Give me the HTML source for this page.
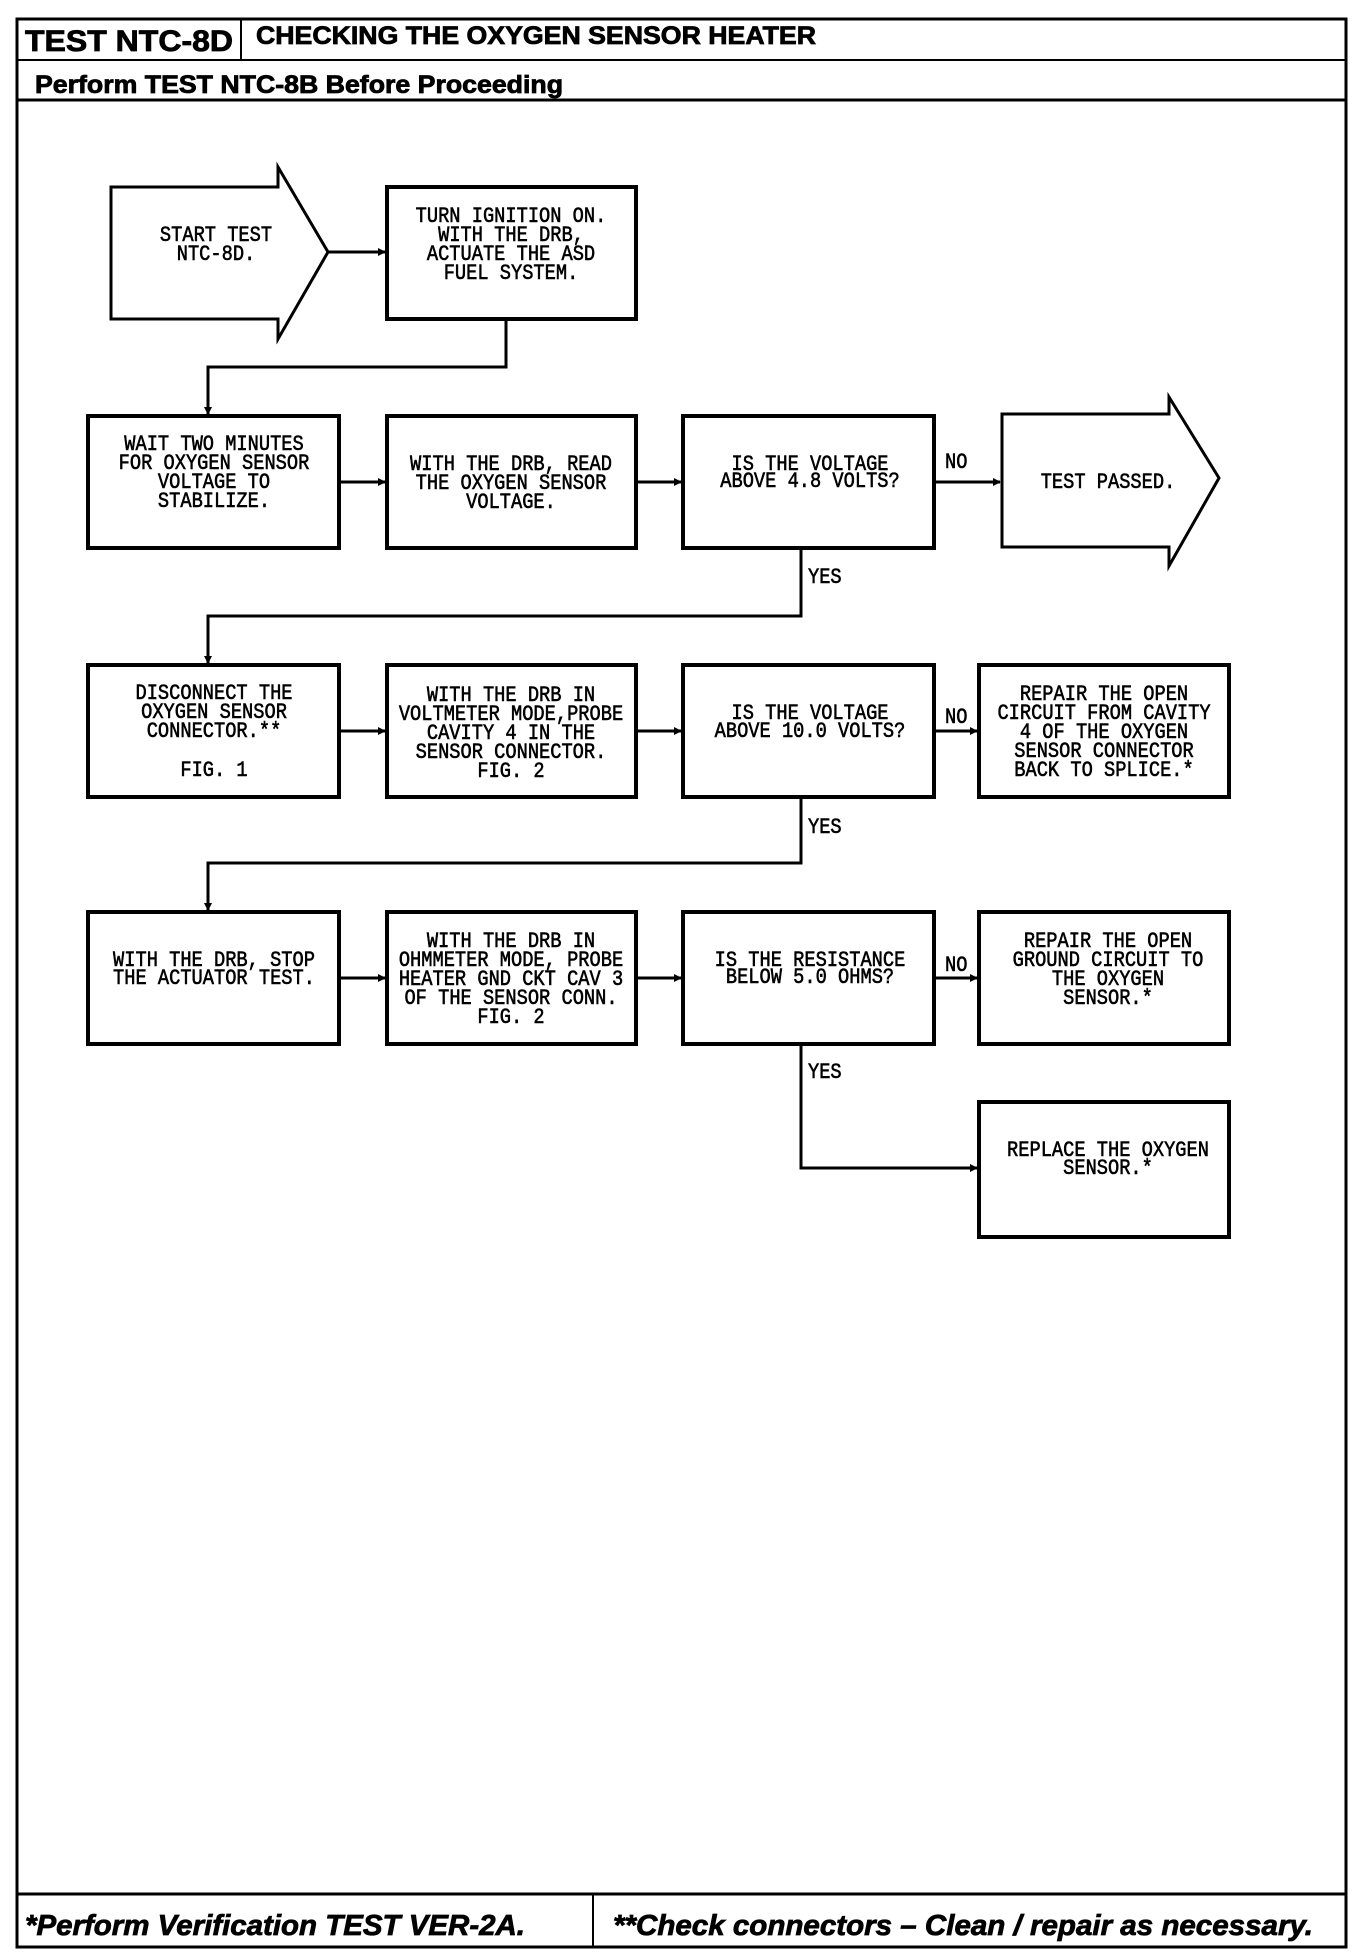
<!DOCTYPE html>
<html><head><meta charset="utf-8"><style>
html,body{margin:0;padding:0;background:#fff;}
svg{display:block;}
.m{font-family:"Liberation Mono",monospace;font-size:22px;fill:#000;stroke:#000;stroke-width:0.6;}
.h{font-family:"Liberation Sans",sans-serif;font-weight:bold;fill:#000;stroke:#000;stroke-width:0.8;}
</style></head><body>
<svg width="1360" height="1954" viewBox="0 0 1360 1954" xmlns="http://www.w3.org/2000/svg">
<defs>
<marker id="a" markerWidth="8" markerHeight="8" refX="7" refY="4" orient="auto" markerUnits="userSpaceOnUse"><path d="M0,0 L8,4 L0,8 z" fill="#000"/></marker>
</defs>
<g fill="none" stroke="#000">
<rect x="17" y="19" width="1329" height="1928" stroke-width="3"/>
<line x1="17" y1="60" x2="1346" y2="60" stroke-width="2"/>
<line x1="241" y1="19" x2="241" y2="60" stroke-width="2"/>
<line x1="17" y1="100" x2="1346" y2="100" stroke-width="3"/>
<line x1="17" y1="1894" x2="1346" y2="1894" stroke-width="3"/>
<line x1="593" y1="1894" x2="593" y2="1947" stroke-width="2"/>

<g stroke-width="4">
<path d="M111,187 L278,187 L278,167 L328,252 L278,339 L278,319 L111,319 Z" stroke-width="3"/>
<rect x="387" y="187" width="249" height="132"/>
<rect x="88" y="416" width="251" height="132"/>
<rect x="387" y="416" width="249" height="132"/>
<rect x="683" y="416" width="251" height="132"/>
<path d="M1002,414 L1169,414 L1169,397 L1219,478 L1169,566 L1169,547 L1002,547 Z" stroke-width="3"/>
<rect x="88" y="665" width="251" height="132"/>
<rect x="387" y="665" width="249" height="132"/>
<rect x="683" y="665" width="251" height="132"/>
<rect x="979" y="665" width="250" height="132"/>
<rect x="88" y="912" width="251" height="132"/>
<rect x="387" y="912" width="249" height="132"/>
<rect x="683" y="912" width="251" height="132"/>
<rect x="979" y="912" width="250" height="132"/>
<rect x="979" y="1102" width="250" height="135"/>
</g>

<g stroke-width="3">
<line x1="328" y1="252" x2="385" y2="252" marker-end="url(#a)"/>
<polyline points="506,319 506,367 208,367 208,414" marker-end="url(#a)"/>
<line x1="339" y1="482" x2="385" y2="482" marker-end="url(#a)"/>
<line x1="636" y1="482" x2="681" y2="482" marker-end="url(#a)"/>
<line x1="934" y1="482" x2="1000" y2="482" marker-end="url(#a)"/>
<polyline points="801,548 801,616 208,616 208,663" marker-end="url(#a)"/>
<line x1="339" y1="731" x2="385" y2="731" marker-end="url(#a)"/>
<line x1="636" y1="731" x2="681" y2="731" marker-end="url(#a)"/>
<line x1="934" y1="731" x2="977" y2="731" marker-end="url(#a)"/>
<polyline points="801,797 801,863 208,863 208,910" marker-end="url(#a)"/>
<line x1="339" y1="978" x2="385" y2="978" marker-end="url(#a)"/>
<line x1="636" y1="978" x2="681" y2="978" marker-end="url(#a)"/>
<line x1="934" y1="978" x2="977" y2="978" marker-end="url(#a)"/>
<polyline points="801,1044 801,1168 977,1168" marker-end="url(#a)"/>
</g>
</g>

<text class="h" x="25" y="51" font-size="30" textLength="208" lengthAdjust="spacingAndGlyphs">TEST NTC-8D</text>
<text class="h" x="256" y="44" font-size="25" textLength="560" lengthAdjust="spacingAndGlyphs">CHECKING THE OXYGEN SENSOR HEATER</text>
<text class="h" x="35" y="93" font-size="25" textLength="528" lengthAdjust="spacingAndGlyphs">Perform TEST NTC-8B Before Proceeding</text>
<text class="h" x="25" y="1935" font-size="29" font-style="italic" textLength="500" lengthAdjust="spacingAndGlyphs">*Perform Verification TEST VER-2A.</text>
<text class="h" x="613" y="1935" font-size="29" font-style="italic" textLength="700" lengthAdjust="spacingAndGlyphs">**Check connectors – Clean / repair as necessary.</text>

<g class="m" text-anchor="middle">
<g transform="translate(216,0) scale(0.85,1)"><text x="0" y="241">START TEST</text><text x="0" y="260">NTC-8D.</text></g>
<g transform="translate(511,0) scale(0.85,1)"><text x="0" y="222">TURN IGNITION ON.</text><text x="0" y="241">WITH THE DRB,</text><text x="0" y="260">ACTUATE THE ASD</text><text x="0" y="279">FUEL SYSTEM.</text></g>

<g transform="translate(214,0) scale(0.85,1)"><text x="0" y="450">WAIT TWO MINUTES</text><text x="0" y="469">FOR OXYGEN SENSOR</text><text x="0" y="488">VOLTAGE TO</text><text x="0" y="507">STABILIZE.</text></g>
<g transform="translate(511,0) scale(0.85,1)"><text x="0" y="470">WITH THE DRB, READ</text><text x="0" y="489">THE OXYGEN SENSOR</text><text x="0" y="508">VOLTAGE.</text></g>
<g transform="translate(810,0) scale(0.85,1)"><text x="0" y="470">IS THE VOLTAGE</text><text x="0" y="487">ABOVE 4.8 VOLTS?</text></g>
<g transform="translate(1108,0) scale(0.85,1)"><text x="0" y="488">TEST PASSED.</text></g>

<g transform="translate(214,0) scale(0.85,1)"><text x="0" y="699">DISCONNECT THE</text><text x="0" y="718">OXYGEN SENSOR</text><text x="0" y="737">CONNECTOR.**</text><text x="0" y="776">FIG. 1</text></g>
<g transform="translate(511,0) scale(0.85,1)"><text x="0" y="701">WITH THE DRB IN</text><text x="0" y="720">VOLTMETER MODE,PROBE</text><text x="0" y="739">CAVITY 4 IN THE</text><text x="0" y="758">SENSOR CONNECTOR.</text><text x="0" y="777">FIG. 2</text></g>
<g transform="translate(810,0) scale(0.85,1)"><text x="0" y="719">IS THE VOLTAGE</text><text x="0" y="737">ABOVE 10.0 VOLTS?</text></g>
<g transform="translate(1104,0) scale(0.85,1)"><text x="0" y="700">REPAIR THE OPEN</text><text x="0" y="719">CIRCUIT FROM CAVITY</text><text x="0" y="738">4 OF THE OXYGEN</text><text x="0" y="757">SENSOR CONNECTOR</text><text x="0" y="776">BACK TO SPLICE.*</text></g>

<g transform="translate(214,0) scale(0.85,1)"><text x="0" y="966">WITH THE DRB, STOP</text><text x="0" y="984">THE ACTUATOR TEST.</text></g>
<g transform="translate(511,0) scale(0.85,1)"><text x="0" y="947">WITH THE DRB IN</text><text x="0" y="966">OHMMETER MODE, PROBE</text><text x="0" y="985">HEATER GND CKT CAV 3</text><text x="0" y="1004">OF THE SENSOR CONN.</text><text x="0" y="1023">FIG. 2</text></g>
<g transform="translate(810,0) scale(0.85,1)"><text x="0" y="966">IS THE RESISTANCE</text><text x="0" y="983">BELOW 5.0 OHMS?</text></g>
<g transform="translate(1108,0) scale(0.85,1)"><text x="0" y="947">REPAIR THE OPEN</text><text x="0" y="966">GROUND CIRCUIT TO</text><text x="0" y="985">THE OXYGEN</text><text x="0" y="1004">SENSOR.*</text></g>
<g transform="translate(1108,0) scale(0.85,1)"><text x="0" y="1156">REPLACE THE OXYGEN</text><text x="0" y="1174">SENSOR.*</text></g>
</g>
<g class="m" font-size="20">
<g transform="translate(945,0) scale(0.85,1)"><text x="0" y="468">NO</text><text x="0" y="723">NO</text><text x="0" y="971">NO</text></g>
<g transform="translate(808,0) scale(0.85,1)"><text x="0" y="583">YES</text><text x="0" y="833">YES</text><text x="0" y="1078">YES</text></g>
</g>
</svg>
</body></html>
